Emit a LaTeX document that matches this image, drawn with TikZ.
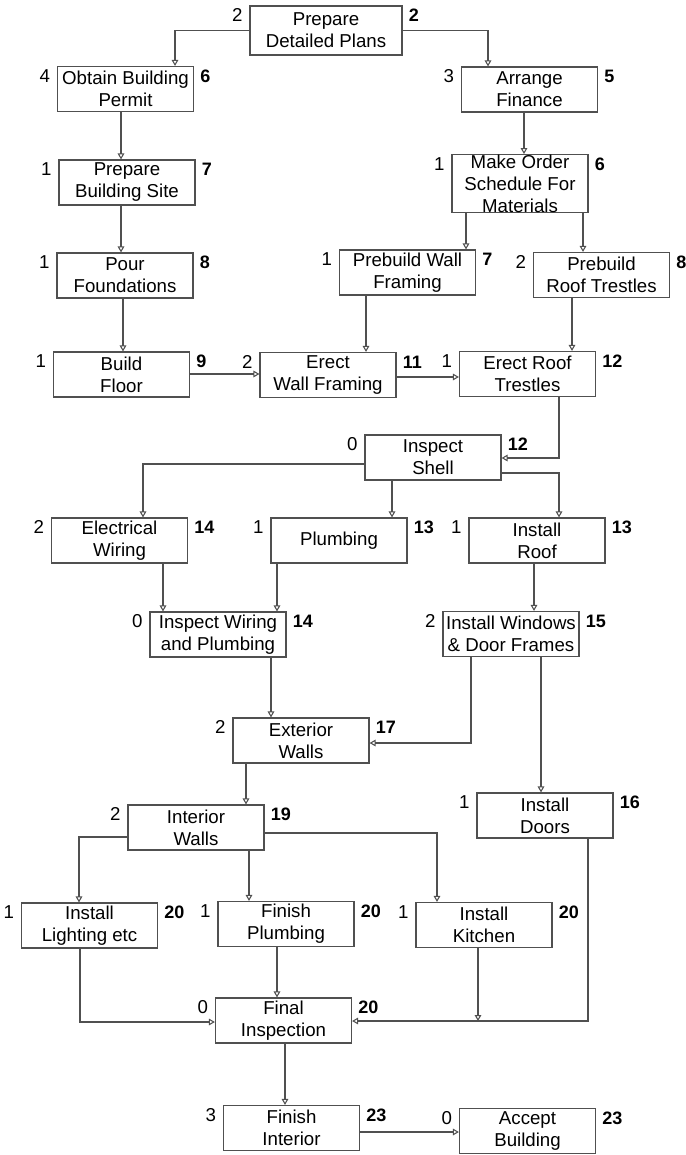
\documentclass[tikz,border=0pt]{standalone}
\usepackage{fontspec}
\setmainfont{Liberation Sans}
\usepackage{tikz}
\usetikzlibrary{arrows.meta}
\definecolor{lgray}{HTML}{505050}
\tikzstyle{taskbox} = [rectangle, draw=lgray, line width=0.9pt, align=center, inner sep=0pt, minimum width=102pt, minimum height=33.75pt, font=\fontsize{14}{16.5}\selectfont]
\tikzstyle{slack} = [inner sep=0pt, anchor=east, font=\fontsize{14}{16.5}\selectfont]
\tikzstyle{finish} = [inner sep=0pt, anchor=west, font=\fontsize{13.5}{16.5}\selectfont\bfseries]
\tikzstyle{arrow} = [draw=lgray, line width=0.8pt, -{Triangle[open, length=4.5pt, width=5pt]}]

\begin{document}
\begin{tikzpicture}[x=0.75pt, y=-0.75pt]
    \useasboundingbox (0,0) rectangle (685,1155);

    % tasks
    \node[taskbox, minimum width=114pt, minimum height=36.75pt] at (326, 30.5) (plans) {Prepare\\Detailed Plans};
    \node[taskbox] at (125.5, 89) (permit) {Obtain Building\\Permit};
    \node[taskbox] at (529.5, 89.5) (finance) {Arrange\\Finance};
    \node[taskbox] at (127, 182.5) (site) {Prepare\\Building Site};
    \node[taskbox, minimum height=42.75pt] at (520, 183.5) (order) {Make Order\\Schedule For\\Materials};
    \node[taskbox] at (407.5, 272.5) (pwall) {Prebuild Wall\\Framing};
    \node[taskbox] at (601.5, 275) (proof) {Prebuild\\Roof Trestles};
    \node[taskbox] at (125, 275.5) (pour) {Pour\\Foundations};
    \node[taskbox] at (121.5, 374.5) (floor) {Build\\Floor};
    \node[taskbox] at (328, 375) (ewall) {Erect\\Wall Framing};
    \node[taskbox] at (527.5, 374) (eroof) {Erect Roof\\Trestles};
    \node[taskbox] at (433, 457.5) (shell) {Inspect\\Shell};
    \node[taskbox] at (119.5, 540.5) (elec) {Electrical\\Wiring};
    \node[taskbox] at (339, 540.5) (plumb) {Plumbing};
    \node[taskbox] at (537, 540.5) (iroof) {Install\\Roof};
    \node[taskbox] at (218, 634.5) (iwp) {Inspect Wiring\\and Plumbing};
    \node[taskbox] at (511, 634) (windows) {Install Windows\\\& Door Frames};
    \node[taskbox] at (301, 740.5) (exterior) {Exterior\\Walls};
    \node[taskbox] at (545, 815.5) (doors) {Install\\Doors};
    \node[taskbox] at (196, 827.5) (interior) {Interior\\Walls};
    \node[taskbox] at (89.5, 925.5) (lighting) {Install\\Lighting etc};
    \node[taskbox] at (286, 924) (fp) {Finish\\Plumbing};
    \node[taskbox] at (484, 925) (kitchen) {Install\\Kitchen};
    \node[taskbox] at (283.5, 1020.5) (final) {Final\\Inspection};
    \node[taskbox] at (291.5, 1128) (finterior) {Finish\\Interior};
    \node[taskbox] at (527.5, 1131) (accept) {Accept\\Building};

    % slack and finish times
    \foreach \task/\sl/\fin in {plans/2/2, permit/4/6, finance/3/5, site/1/7, order/1/6,
        pwall/1/7, proof/2/8, pour/1/8, floor/1/9, ewall/2/11, eroof/1/12, shell/0/12,
        elec/2/14, plumb/1/13, iroof/1/13, iwp/0/14, windows/2/15, exterior/2/17,
        doors/1/16, interior/2/19, lighting/1/20, fp/1/20, kitchen/1/20, final/0/20,
        finterior/3/23, accept/0/23} {
        \node[slack] at ([xshift=-5pt, yshift=-7.5pt]\task.north west) (\task-s) {\sl};
        \node[finish] at ([xshift=4.5pt, yshift=-7.5pt]\task.north east) (\task-f) {\fin};
    }

    % dependencies
    \path[arrow] (plans.west) -| (permit.north -| 175,0);
    \path[arrow] (plans.east) -| (finance.north -| 488,0);
    \path[arrow] (permit.south -| 121,0) -- (site.north -| 121,0);
    \path[arrow] (site.south -| 121,0) -- (pour.north -| 121,0);
    \path[arrow] (pour.south -| 123,0) -- (floor.north -| 123,0);
    \path[arrow] (finance.south -| 524,0) -- (order.north -| 524,0);
    \path[arrow] (order.south -| 466,0) -- (pwall.north -| 466,0);
    \path[arrow] (order.south -| 583,0) -- (proof.north -| 583,0);
    \path[arrow] (pwall.south -| 366,0) -- (ewall.north -| 366,0);
    \path[arrow] (proof.south -| 572,0) -- (eroof.north -| 572,0);
    \path[arrow] (floor.east |- 0,374) -- (ewall.west |- 0,374);
    \path[arrow] (ewall.east |- 0,377) -- (eroof.west |- 0,377);
    \path[arrow] (eroof.south -| 559,0) |- (shell.east |- 0,458);

    \path[arrow] (shell.west |- 0,464) -| (elec.north -| 143,0);
    \path[arrow] (shell.south -| 392,0) -- (plumb.north -| 392,0);
    \path[arrow] (shell.east |- 0,473) -| (iroof.north -| 559,0);
    \path[arrow] (elec.south -| 163,0) -- (iwp.north -| 163,0);
    \path[arrow] (plumb.south -| 277,0) -- (iwp.north -| 277,0);
    \path[arrow] (iwp.south -| 271,0) -- (exterior.north -| 271,0);
    \path[arrow] (iroof.south -| 534,0) -- (windows.north -| 534,0);
    \path[arrow] (windows.south -| 471,0) |- (exterior.east |- 0,743);
    \path[arrow] (windows.south -| 541,0) -- (doors.north -| 541,0);

    \path[arrow] (exterior.south -| 246,0) -- (interior.north -| 246,0);
    \path[arrow] (interior.west |- 0,837) -| (lighting.north -| 79,0);
    \path[arrow] (interior.south -| 249,0) -- (fp.north -| 249,0);
    \path[arrow] (interior.east |- 0,833) -| (kitchen.north -| 437,0);
    \path[arrow] (lighting.south -| 80,0) |- (final.west |- 0,1022);
    \path[arrow] (fp.south -| 277,0) -- (final.north -| 277,0);
    \coordinate (kjoin) at (478, 1021);
    \path[arrow] (kitchen.south -| 478,0) -- (kjoin);
    \path[arrow] (doors.south -| 588,0) |- (final.east |- 0,1021);
    \path[arrow] (final.south -| 285,0) -- (finterior.north -| 285,0);
    \path[arrow] (finterior.east |- 0,1132) -- (accept.west |- 0,1132);

\end{tikzpicture}
\end{document}
